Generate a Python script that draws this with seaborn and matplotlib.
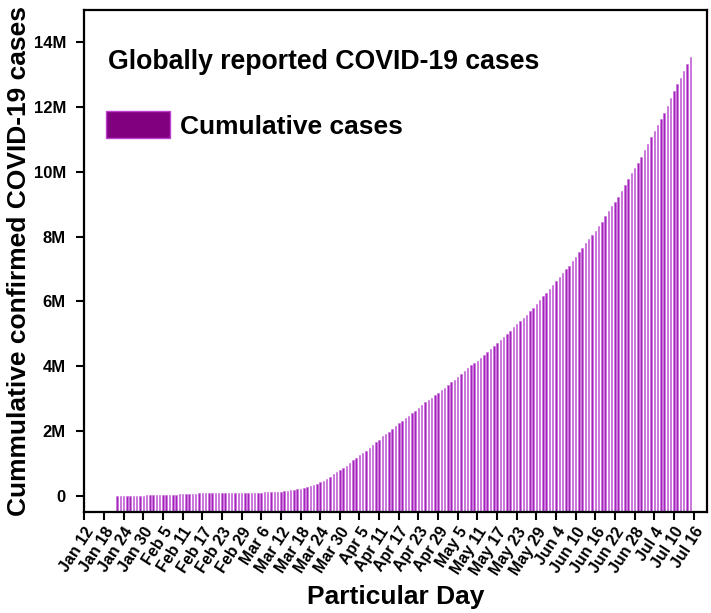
import matplotlib
matplotlib.use("Agg")
import matplotlib.pyplot as plt
import seaborn as sns
import pandas as pd
import numpy as np
from matplotlib.patches import Patch

# ---------------- data ----------------
start_date = "2020-01-22"
cumulative_cases = [
    # Jan 22 - Jan 31
    555, 654, 941, 1434, 2118, 2927, 5578, 6166, 8234, 9927,
    # Feb 1 - Feb 29
    12038, 16787, 19887, 23898, 27643, 30802, 34395, 37129, 40160, 42768,
    44811, 45229, 60381, 66909, 69052, 71235, 73270, 75152, 75652, 76212,
    76841, 78602, 78982, 79546, 80399, 81376, 82738, 84122, 86013,
    # Mar 1 - Mar 31
    88369, 90306, 92840, 95120, 97886, 101801, 105847, 109821, 113590, 118620,
    125875, 128352, 145205, 156101, 167454, 181574, 197102, 214821, 242570, 272208,
    304507, 336953, 378235, 418045, 467653, 529591, 593291, 660706, 720117, 782365,
    857487,
    # Apr 1 - Apr 30
    932605, 1013466, 1095917, 1176060, 1249754, 1321481, 1396476, 1479804, 1565278, 1657526,
    1735650, 1834721, 1904838, 1976191, 2056054, 2152437, 2240190, 2317758, 2401378, 2472259,
    2549123, 2624090, 2708885, 2795729, 2881140, 2955033, 3023722, 3097229, 3172287, 3256846,
    # May 1 - May 31
    3343777, 3427584, 3506729, 3583055, 3662691, 3755341, 3845718, 3938064, 4024009, 4101699,
    4177502, 4261747, 4347018, 4442163, 4542347, 4634068, 4713620, 4801943, 4897492, 4996472,
    5102424, 5210817, 5310362, 5407613, 5495061, 5589626, 5691790, 5808946, 5930843, 6058990,
    6166054,
    # Jun 1 - Jun 30
    6265852, 6378237, 6508627, 6632985, 6764071, 6891320, 7005071, 7110954, 7244064, 7388203,
    7523862, 7654803, 7790720, 7922863, 8039733, 8180301, 8325924, 8467373, 8647001, 8805362,
    8933034, 9072163, 9236198, 9408391, 9586648, 9777223, 9964071, 10120637, 10280003, 10450264,
    # Jul 1 - Jul 15
    10667534, 10875091, 11078585, 11272152, 11454847, 11622190, 11833034, 12044836, 12273063, 12505640,
    12721968, 12914636, 13107415, 13328867, 13559984,
]
dates = pd.date_range(start_date, periods=len(cumulative_cases), freq="D")

x_tick_dates = pd.date_range("2020-01-12", "2020-07-16", freq="6D")
x_tick_labels = [d.strftime("%b ") + str(d.day) for d in x_tick_dates]
y_tick_values = [0, 2e6, 4e6, 6e6, 8e6, 10e6, 12e6, 14e6]
y_tick_labels = ["0", "2M", "4M", "6M", "8M", "10M", "12M", "14M"]

title_text = "Globally reported COVID-19 cases"
series_label = "Cumulative cases"
x_label = "Particular Day"
y_label = "Cummulative confirmed COVID-19 cases"

df = pd.DataFrame({"date": dates.strftime("%Y-%m-%d"), "cases": cumulative_cases})

# ---------------- style ----------------
sns.set_style("white")
plt.rcParams["font.family"] = ["Liberation Sans", "DejaVu Sans"]
plt.rcParams["font.weight"] = "bold"
for key in ["text.color", "axes.labelcolor", "xtick.color", "ytick.color"]:
    plt.rcParams[key] = "black"

bar_face = "#A424BC"
bar_edge = "#C868DA"
legend_face = "#800080"
legend_edge = "#C040D0"

fig = plt.figure(figsize=(7.11, 6.13), dpi=100)
ax = fig.add_axes([84 / 711, 1 - 512 / 613, (707 - 84) / 711, (512 - 10) / 613])

sns.barplot(data=df, x="date", y="cases", ax=ax, color=bar_face,
            saturation=1, width=0.45, edgecolor=bar_edge, linewidth=0.4)

ymin = -0.5e6
ax.set_ylim(ymin, 15e6)
# bars start at the bottom of the axis (as in the reference)
for p in ax.patches:
    h = p.get_y() + p.get_height()
    p.set_y(ymin)
    p.set_height(h - ymin)

# x ticks at dates (category positions are day offsets from start)
start = pd.Timestamp(start_date)
tick_pos = [(d - start).days for d in x_tick_dates]
ax.set_xticks(tick_pos)
ax.set_xticklabels(x_tick_labels, rotation=57, ha="right", va="top",
                   rotation_mode="anchor", fontsize=11.5, fontweight="bold")
ax.set_xlim(-10.1, 180.1)

ax.set_yticks(y_tick_values)
ax.set_yticklabels(y_tick_labels, fontsize=12, fontweight="bold")

for s in ax.spines.values():
    s.set_visible(True)
    s.set_linewidth(1.6)
    s.set_color("black")
ax.tick_params(axis="both", which="both", direction="out", length=6, width=1.5,
               color="black", bottom=True, left=True, top=False, right=False)
ax.tick_params(axis="y", pad=7)
ax.tick_params(axis="x", pad=3)

ax.set_xlabel(x_label, fontsize=19, fontweight="bold", labelpad=5)
ax.set_ylabel(y_label, fontsize=19, fontweight="bold", labelpad=2)

ax.text(0.0385, 0.882, title_text, transform=ax.transAxes, fontsize=19.2,
        fontweight="bold", ha="left", va="baseline")

handle = Patch(facecolor=legend_face, edgecolor=legend_edge, linewidth=1)
ax.legend([handle], [series_label], loc="upper left", bbox_to_anchor=(0.036, 0.798),
          frameon=False, handlelength=2.4, handleheight=1.2,
          handletextpad=0.4, borderpad=0, borderaxespad=0,
          prop={"weight": "bold", "size": 19})

fig.savefig("out.png", dpi=100)
